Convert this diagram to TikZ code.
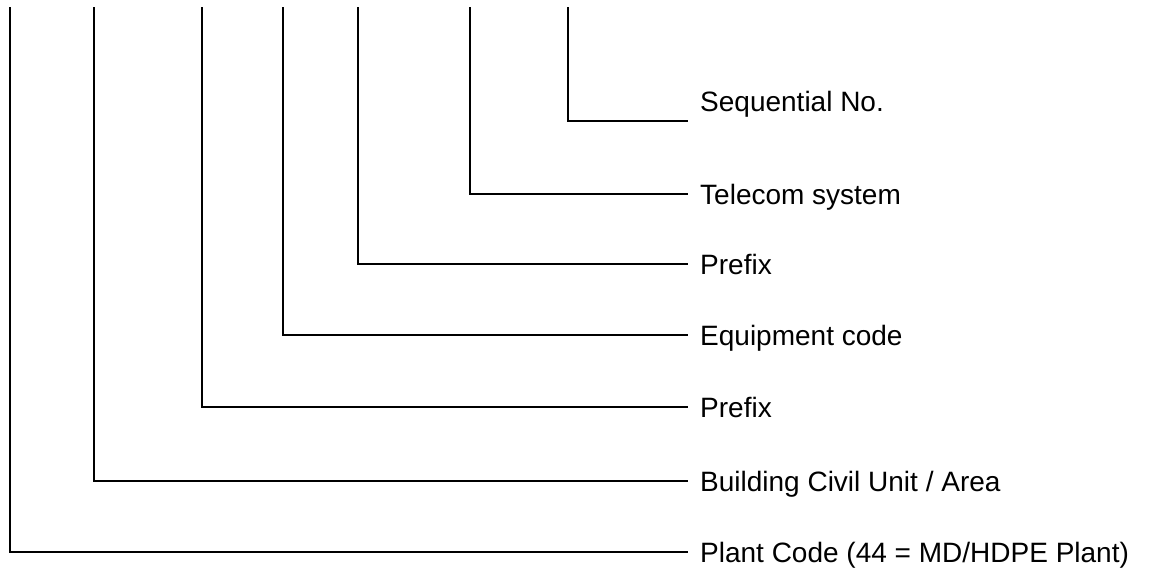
\documentclass[tikz,border=0pt]{standalone}
\usepackage{fontspec}
\setmainfont{Liberation Sans}
\usetikzlibrary{positioning}
\definecolor{Dark}{HTML}{000000}

\tikzset{
	codeline/.style={draw=Dark, line width=2pt},
	codelabel/.style={anchor=west, inner xsep=12pt, inner ysep=9pt,
		text height=20pt, text depth=0pt, font=\fontsize{28pt}{33pt}\selectfont}
}

\begin{document}
\begin{tikzpicture}[x=1pt, y=-1pt]
	\useasboundingbox (0,0) rectangle (1157,571);
	
	% tops of the code lines
	\coordinate (plantTop) at (10,7);
	\coordinate (areaTop) at (94,7);
	\coordinate (prefixOneTop) at (202,7);
	\coordinate (equipTop) at (283,7);
	\coordinate (prefixTwoTop) at (358,7);
	\coordinate (telecomTop) at (470,7);
	\coordinate (seqTop) at (568,7);
	
	% labels
	\node[codelabel, anchor=south west] (seq) at (688,121) {Sequential No.};
	\node[codelabel] (telecom) at (688,194) {Telecom system};
	\node[codelabel] (prefixTwo) at (688,264) {Prefix};
	\node[codelabel] (equip) at (688,335) {Equipment code};
	\node[codelabel] (prefixOne) at (688,407) {Prefix};
	\node[codelabel] (area) at (688,481) {Building Civil Unit / Area};
	\node[codelabel] (plant) at (688,552) {Plant Code (44 = MD/HDPE Plant)};
	
	% connectors
	\draw[codeline] (seqTop) |- (seq.south west);
	\draw[codeline] (telecomTop) |- (telecom.west);
	\draw[codeline] (prefixTwoTop) |- (prefixTwo.west);
	\draw[codeline] (equipTop) |- (equip.west);
	\draw[codeline] (prefixOneTop) |- (prefixOne.west);
	\draw[codeline] (areaTop) |- (area.west);
	\draw[codeline] (plantTop) |- (plant.west);
\end{tikzpicture}
\end{document}
